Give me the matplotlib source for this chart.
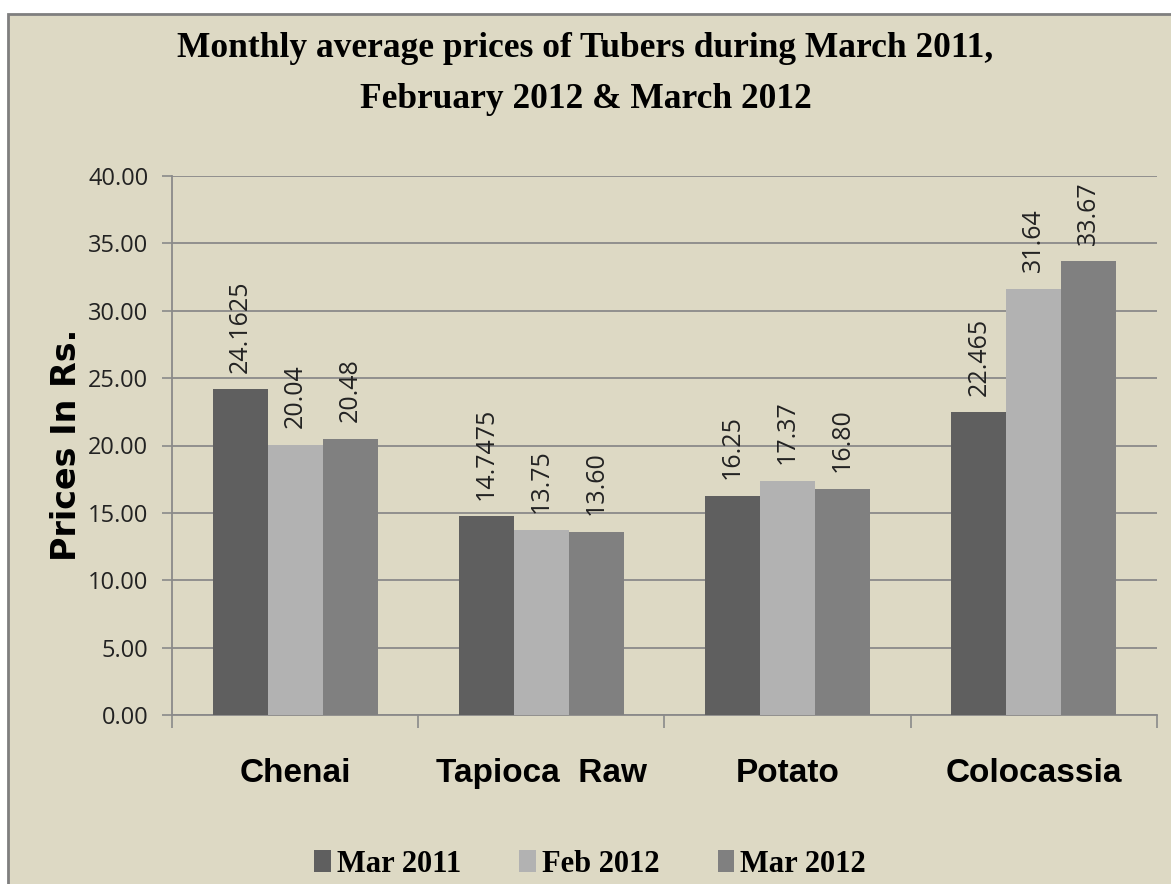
"""
Monthly average prices of tubers, grouped bars for three months.
"""

import matplotlib

matplotlib.use("Agg")

import matplotlib.pyplot as plt
import numpy as np
from matplotlib.patches import Rectangle
from matplotlib.ticker import FixedLocator, StrMethodFormatter

categories = ["Chenai", "Tapioca  Raw", "Potato", "Colocassia"]
series_names = ["Mar 2011", "Feb 2012", "Mar 2012"]
mar_2011 = [24.1625, 14.7475, 16.25, 22.465]
feb_2012 = [20.04, 13.75, 17.37, 31.64]
mar_2012 = [20.48, 13.60, 16.80, 33.67]
# data labels as printed on the chart
mar_2011_labels = ["24.1625", "14.7475", "16.25", "22.465"]
feb_2012_labels = ["20.04", "13.75", "17.37", "31.64"]
mar_2012_labels = ["20.48", "13.60", "16.80", "33.67"]
y_ticks = [0, 5, 10, 15, 20, 25, 30, 35, 40]

BG = "#DDD9C4"
GRID = "#8A8A8A"
COLORS = ["#5F5F5F", "#B2B2B2", "#808080"]

fig = plt.figure(figsize=(11.71, 8.84), dpi=100, facecolor="white")

# beige panel with grey frame, white margin top/left
W, H = 1171, 884
fig.patches.append(
    Rectangle((8 / W, -0.05), 1.1, (H - 14) / H + 0.05, transform=fig.transFigure,
              facecolor=BG, edgecolor="#7F7F7F", linewidth=2.0, zorder=-5)
)

ax = fig.add_axes([172 / W, (H - 715) / H, (1157 - 172) / W, (715 - 176) / H])
ax.set_facecolor("none")
ax.set_zorder(2)

x = np.arange(len(categories))
bar_w = 0.2236
series = [mar_2011, feb_2012, mar_2012]
labels = [mar_2011_labels, feb_2012_labels, mar_2012_labels]
for i, (vals, labs, color, name) in enumerate(zip(series, labels, COLORS, series_names)):
    xs = x + (i - 1) * bar_w
    ax.bar(xs, vals, width=bar_w, color=color, edgecolor="none", label=name, zorder=3)
    for xi, v, lab in zip(xs, vals, labs):
        ax.annotate(lab, (xi, v), xytext=(0, 12), textcoords="offset points",
                    rotation=90, ha="center", va="bottom", fontsize=18,
                    family=["Open Sans", "DejaVu Sans"], color="#222222", zorder=5)

ax.set_xlim(-0.5, 3.5)
ax.set_ylim(0, 40)
ax.yaxis.set_major_locator(FixedLocator(y_ticks))
ax.yaxis.set_major_formatter(StrMethodFormatter("{x:.2f}"))
ax.grid(axis="y", color=GRID, linewidth=1.3, zorder=1)
ax.set_axisbelow(True)

for side in ("top", "right"):
    ax.spines[side].set_visible(False)
for side in ("left", "bottom"):
    ax.spines[side].set_color(GRID)
    ax.spines[side].set_linewidth(1.3)

ax.tick_params(axis="y", direction="out", length=7, width=1.2, color=GRID,
               pad=10, labelsize=17, labelcolor="#222222")
for t in ax.get_yticklabels():
    t.set_family(["Open Sans", "DejaVu Sans"])

# category boundaries as major ticks, names on minor ticks
ax.set_xticks(np.arange(-0.5, 4.0, 1.0))
ax.set_xticklabels([])
ax.set_xticks(x, minor=True)
ax.set_xticklabels(categories, minor=True, fontsize=24, fontweight="bold",
                   family=["Liberation Sans", "DejaVu Sans"])
ax.tick_params(axis="x", which="major", direction="out", length=9, width=1.2, color=GRID)
ax.tick_params(axis="x", which="minor", length=0, pad=31)

ax.set_ylabel("Prices In Rs.", fontsize=24, fontweight="bold",
              family=["DejaVu Sans"], va="center")
ax.yaxis.set_label_coords(-0.107, 0.501)

fig.text(0.5, (H - 74) / H,
         "Monthly average prices of Tubers during March 2011,\nFebruary 2012 & March 2012",
         ha="center", va="center", fontsize=25.5, fontweight="bold",
         family=["Liberation Serif", "DejaVu Serif"], linespacing=1.7)

handles = [Rectangle((0, 0), 1, 1, facecolor=c, edgecolor="none") for c in COLORS]
fig.legend(handles, series_names, loc="center", ncol=3,
           bbox_to_anchor=(590 / W, (H - 864) / H), frameon=False,
           prop={"family": ["Liberation Serif", "DejaVu Serif"], "weight": "bold", "size": 22},
           handlelength=0.55, handleheight=0.7, handletextpad=0.2, columnspacing=1.9,
           borderaxespad=0, borderpad=0)

fig.savefig("out.png", dpi=100, facecolor="white")
